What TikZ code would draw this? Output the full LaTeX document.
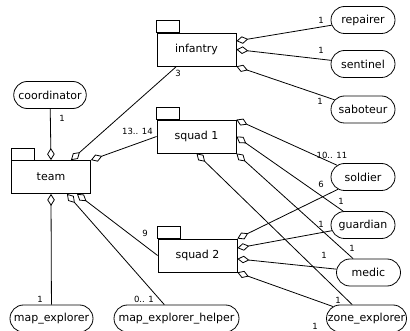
\documentclass[tikz,border=0pt]{standalone}
\usepackage{fontspec}
\setmainfont{DejaVu Sans}
\usetikzlibrary{arrows.meta,calc,shapes.misc}

\begin{document}
\begin{tikzpicture}[x=1pt,y=-1pt]
        \tikzstyle{pkg}=[draw, rectangle, line width=0.8pt, minimum width=79pt, minimum height=33pt, inner sep=0pt, font=\fontsize{11}{13}\selectfont]
        \tikzstyle{role}=[draw, rounded rectangle, line width=0.8pt, minimum width=72pt, minimum height=27pt, inner xsep=4pt, inner ysep=0pt, font=\fontsize{11}{13}\selectfont]
        \tikzstyle{agg}=[line width=0.8pt, -{Diamond[open, length=12pt, width=7.5pt]}]
        \tikzstyle{mult}=[inner sep=0pt, font=\fontsize{8.5}{10}\selectfont]

        \useasboundingbox (0,0) rectangle (410,331);

        % packages
        \node[pkg] (infantry) at (196.5,49.5) {infantry};
        \node[pkg] (squad1) at (196.5,136.5) {squad 1};
        \node[pkg] (squad2) at (197.5,255.5) {squad 2};
        \node[pkg] (team) at (51,177) {team};
        \foreach \p in {infantry,squad1,squad2,team}
            \draw[line width=0.8pt] (\p.north west) rectangle ++(23,-12);

        % roles
        \node[role] (coordinator) at (50,95) {coordinator};
        \node[role] (repairer) at (363,20) {repairer};
        \node[role] (sentinel) at (363,64) {sentinel};
        \node[role] (saboteur) at (363,109.5) {saboteur};
        \node[role] (soldier) at (363,177) {soldier};
        \node[role] (guardian) at (363,225) {guardian};
        \node[role] (medic) at (368.5,272.5) {medic};
        \node[role, minimum width=91pt] (mapexp) at (51.5,318.5) {map\_explorer};
        \node[role, minimum width=133pt] (helper) at (176.5,318.5) {map\_explorer\_helper};
        \node[role, minimum width=88pt] (zoneexp) at (366.5,318.5) {zone\_explorer};

        % team
        \draw[agg] (coordinator) -- (team.north);
        \draw[agg] ($(infantry.south west)!.25!(infantry.south east)$) -- ($(team.north)!.5!(team.north east)$);
        \draw[agg] (squad1.west) -- (team.north east);
        \draw[agg] (mapexp) -- (team.south);
        \draw[agg] (helper) -- ($(team.south)!.4!(team.south east)$);
        \draw[agg] (squad2.west) -- ($(team.south)!.65!(team.south east)$);

        % infantry
        \draw[agg] (repairer) -- ($(infantry.north east)!.25!(infantry.south east)$);
        \draw[agg] (sentinel) -- (infantry.east);
        \draw[agg] (saboteur) -- (infantry.south east);

        % squad 1
        \draw[agg] (soldier) -- (squad1.north east);
        \draw[agg] (guardian) -- (squad1.east);
        \draw[agg] (medic) -- (squad1.south east);
        \draw[agg] (zoneexp) -- (squad1.south);

        % squad 2
        \draw[agg] (soldier) -- (squad2.north east);
        \draw[agg] (guardian) -- ($(squad2.north east)!.28!(squad2.south east)$);
        \draw[agg] (medic) -- ($(squad2.north east)!.6!(squad2.south east)$);
        \draw[agg] (zoneexp) -- (squad2.south east);

        % multiplicities
        \node[mult] (m-coord) at (62,118) {1};
        \node[mult] (m-inf) at (178,73) {3};
        \node[mult] (m-sq1) at (137.5,131.5) {13.. 14};
        \node[mult] (m-sq2) at (145,233) {9};
        \node[mult] (m-map) at (40,299) {1};
        \node[mult] (m-help) at (144,299) {0.. 1};
        \node[mult] (m-rep) at (321,20) {1};
        \node[mult] (m-sen) at (321,50) {1};
        \node[mult] (m-sab) at (320,101) {1};
        \node[mult] (m-sol1) at (332,155) {10.. 11};
        \node[mult] (m-sol2) at (321,184) {6};
        \node[mult] (m-gua1) at (341,201) {1};
        \node[mult] (m-gua2) at (321,224) {1};
        \node[mult] (m-med1) at (352,248) {1};
        \node[mult] (m-med2) at (324,255) {1};
        \node[mult] (m-zon1) at (338,300) {1};
        \node[mult] (m-zon2) at (315,326) {1};
    \end{tikzpicture}
\end{document}
